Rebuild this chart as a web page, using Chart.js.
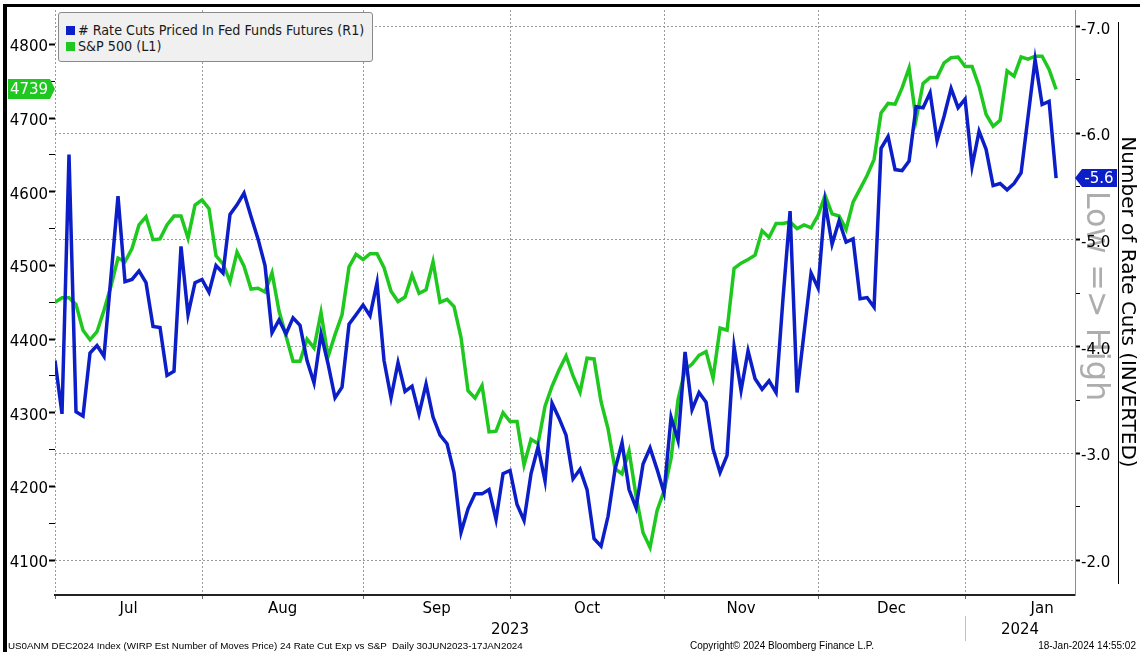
<!DOCTYPE html>
<html>
<head>
<meta charset="utf-8">
<script src="https://cdn.jsdelivr.net/npm/chart.js@4.4.0/dist/chart.umd.min.js"></script>
<style>
  html, body { margin: 0; padding: 0; background: #fff; }
  #wrap { position: relative; width: 1140px; height: 652px; overflow: hidden; }
  #chart { position: absolute; left: 0; top: 0; }
  #frameL { position: absolute; left: 3px; top: 4px; width: 4px; height: 648px; background: #000; }
  #frameT { position: absolute; left: 3px; top: 4px; width: 1137px; height: 3px; background: #000; }
  #legend {
    position: absolute; left: 58px; top: 12px; width: 313px; height: 48px;
    background: #f0f0f0; border: 1px solid #8a8a8a; border-radius: 3px;
    font-family: "DejaVu Sans Condensed", "DejaVu Sans", sans-serif; font-stretch: condensed;
    font-size: 14.2px; color: #1a1a1a;
  }
  #legend .row { position: absolute; left: 7px; height: 16px; line-height: 16px; white-space: nowrap; }
  #legend .sw { display: inline-block; width: 9px; height: 9px; margin-right: 3px; }
  .foot {
    position: absolute; top: 639px; height: 14px; line-height: 14px;
    font-family: "Liberation Sans", sans-serif; font-size: 10px; color: #000; white-space: pre;
  }
</style>
</head>
<body>
<div id="wrap">
  <canvas id="chart" width="1140" height="652"></canvas>
  <div id="frameL"></div>
  <div id="frameT"></div>
  <div id="legend">
    <div class="row" style="top:9px"><span class="sw" style="background:#0c1ec8"></span># Rate Cuts Priced In Fed Funds Futures (R1)</div>
    <div class="row" style="top:25px"><span class="sw" style="background:#1ec81e"></span>S&amp;P 500 (L1)</div>
  </div>
  <div class="foot" style="left:8px;font-size:9.8px">US0ANM DEC2024 Index (WIRP Est Number of Moves Price) 24 Rate Cut Exp vs S&amp;P  Daily 30JUN2023-17JAN2024</div>
  <div class="foot" style="left:690px">Copyright© 2024 Bloomberg Finance L.P.</div>
  <div class="foot" style="right:4px">18-Jan-2024 14:55:02</div>
</div>
<script>
// daily (weekday) series, 30 Jun 2023 .. 17 Jan 2024
const rateCuts = [
  -3.87, -3.37, -5.80, -3.39, -3.35, -3.94, -4.01, -3.91, -4.66, -5.41,
  -4.61, -4.63, -4.71, -4.60, -4.19, -4.18, -3.73, -3.77, -4.94, -4.30,
  -4.60, -4.63, -4.51, -4.76, -4.69, -5.24, -5.33, -5.44, -5.22, -5.01,
  -4.76, -4.13, -4.25, -4.12, -4.27, -4.20, -3.87, -3.66, -4.12, -3.84,
  -3.52, -3.62, -4.21, -4.30, -4.39, -4.29, -4.60, -3.87, -3.52, -3.85,
  -3.58, -3.63, -3.37, -3.65, -3.34, -3.17, -3.09, -2.82, -2.26, -2.48,
  -2.62, -2.62, -2.66, -2.38, -2.81, -2.84, -2.52, -2.37, -2.81, -3.06,
  -2.74, -3.47, -3.33, -3.17, -2.76, -2.85, -2.66, -2.20, -2.13, -2.41,
  -2.85, -3.10, -2.66, -2.49, -2.90, -3.05, -2.85, -2.63, -3.34, -3.12,
  -3.95, -3.41, -3.57, -3.48, -3.04, -2.82, -2.98, -4.00, -3.59, -3.96,
  -3.70, -3.60, -3.68, -3.57, -4.46, -5.27, -3.57, -4.13, -4.69, -4.55,
  -5.35, -4.96, -5.18, -4.98, -5.01, -4.45, -4.46, -4.37, -5.86, -5.97,
  -5.66, -5.65, -5.74, -6.25, -6.24, -6.38, -5.93, -6.16, -6.42, -6.24,
  -6.32, -5.69, -6.02, -5.85, -5.51, -5.53, -5.47, -5.53, -5.63, -6.16,
  -6.69, -6.27, -6.30, -5.58
];

const spx = [
  4450, 4456, 4456, 4447, 4412, 4399, 4410, 4439, 4472, 4510,
  4505, 4523, 4555, 4566, 4535, 4536, 4555, 4567, 4567, 4537,
  4582, 4589, 4577, 4513, 4502, 4478, 4518, 4499, 4468, 4469,
  4464, 4490, 4438, 4404, 4370, 4370, 4400, 4388, 4436, 4376,
  4406, 4433, 4498, 4515, 4508, 4516, 4516, 4497, 4465, 4451,
  4457, 4487, 4462, 4467, 4505, 4450, 4454, 4444, 4402, 4330,
  4320, 4337, 4274, 4275, 4300, 4288, 4288, 4229, 4264, 4258,
  4309, 4336, 4358, 4377, 4350, 4328, 4374, 4373, 4315, 4278,
  4224, 4217, 4248, 4187, 4137, 4117, 4167, 4194, 4238, 4318,
  4358, 4366, 4378, 4383, 4347, 4415, 4412, 4496, 4503, 4508,
  4514, 4547, 4538, 4557, 4557, 4559, 4550, 4555, 4551, 4568,
  4595, 4570, 4567, 4549, 4586, 4604, 4622, 4644, 4707, 4720,
  4719, 4741, 4768, 4698, 4747, 4755, 4755, 4775, 4782, 4783,
  4770, 4770, 4743, 4705, 4689, 4697, 4764, 4757, 4783, 4780,
  4784, 4784, 4766, 4739
];

// month boundaries (index of last weekday of previous month), last one = end of Jan
const monthEnds = [0, 21, 44, 65, 87, 109, 130, 152];
const monthLabels = ['Jul', 'Aug', 'Sep', 'Oct', 'Nov', 'Dec', 'Jan'];
const yearLabels = ['2023', '2024'];
const yearStarts = [0, 130];

const leftTicks = [4100, 4150, 4200, 4250, 4300, 4350, 4400, 4450, 4500, 4550, 4600, 4650, 4700, 4750, 4800];
const rightTicks = [-7, -6.5, -6, -5.5, -5, -4.5, -4, -3.5, -3, -2.5, -2];

const BLUE = '#0c1ec8';
const GREEN = '#1ec81e';
const FONT = '"DejaVu Sans", sans-serif';
// tick fonts: the empty first line nudges each label a few px down onto its tick
const tickFont = { family: FONT, size: 15, lineHeight: 0.4 };

const decor = {
  id: 'decor',
  beforeDraw(chart) {
    const ctx = chart.ctx;
    ctx.save();
    ctx.fillStyle = '#adadad';
    ctx.font = '32px ' + FONT;
    ctx.textAlign = 'center';
    ctx.textBaseline = 'middle';
    ctx.translate(1095, 296);
    ctx.rotate(Math.PI / 2);
    ctx.fillText('Low => High', 0, 0);
    ctx.restore();
  },
  afterDraw(chart) {
    const { ctx, scales } = chart;
    const x = scales.x, y = scales.y, y1 = scales.y1;
    ctx.save();

    // month labels
    ctx.fillStyle = '#000';
    ctx.font = '15px ' + FONT;
    ctx.textAlign = 'center';
    ctx.textBaseline = 'middle';
    monthLabels.forEach((m, k) => {
      const mid = (monthEnds[k] + monthEnds[k + 1]) / 2;
      ctx.fillText(m, x.getPixelForValue(mid), 609);
    });

    // year labels
    yearLabels.forEach((yl, k) => {
      const a = x.getPixelForValue(yearStarts[k]);
      const b = k + 1 < yearStarts.length ? x.getPixelForValue(yearStarts[k + 1]) : x.right;
      ctx.fillText(yl, (a + b) / 2, 630);
    });
    const sep = Math.round(x.getPixelForValue(yearStarts[1])) + 0.5;
    ctx.strokeStyle = '#c0c0c0';
    ctx.lineWidth = 1;
    ctx.beginPath();
    ctx.moveTo(sep, 616);
    ctx.lineTo(sep, 641);
    ctx.stroke();

    // right axis title + bracket line
    ctx.strokeStyle = '#000';
    ctx.beginPath();
    ctx.moveTo(1118.5, 22);
    ctx.lineTo(1118.5, 584);
    ctx.stroke();
    ctx.save();
    ctx.translate(1127, 302);
    ctx.rotate(Math.PI / 2);
    ctx.font = '20px ' + FONT;
    ctx.fillStyle = '#000';
    ctx.fillText('Number of Rate Cuts (INVERTED)', 0, 0);
    ctx.restore();

    // last value tags
    const lastSpx = spx[spx.length - 1];
    const gy = Math.round(y.getPixelForValue(lastSpx));
    ctx.fillStyle = GREEN;
    ctx.beginPath();
    ctx.moveTo(8, gy - 10);
    ctx.lineTo(50, gy - 10);
    ctx.lineTo(55, gy);
    ctx.lineTo(50, gy + 10);
    ctx.lineTo(8, gy + 10);
    ctx.closePath();
    ctx.fill();
    ctx.fillStyle = '#fff';
    ctx.font = '15px ' + FONT;
    ctx.fillText(String(Math.round(lastSpx)), 29, gy + 1);

    const lastCut = rateCuts[rateCuts.length - 1];
    const by = Math.round(y1.getPixelForValue(lastCut));
    ctx.fillStyle = BLUE;
    ctx.beginPath();
    ctx.moveTo(1075, by);
    ctx.lineTo(1082, by - 9);
    ctx.lineTo(1117, by - 9);
    ctx.lineTo(1117, by + 9);
    ctx.lineTo(1082, by + 9);
    ctx.closePath();
    ctx.fill();
    ctx.fillStyle = '#fff';
    ctx.fillText(lastCut.toFixed(1), 1099, by + 1);

    ctx.restore();
  }
};

new Chart(document.getElementById('chart').getContext('2d'), {
  type: 'line',
  data: {
    datasets: [
      {
        label: '# Rate Cuts Priced In Fed Funds Futures (R1)',
        data: rateCuts.map((v, i) => ({ x: i, y: v })),
        yAxisID: 'y1',
        borderColor: BLUE,
        borderWidth: 3.5,
        pointRadius: 0,
        tension: 0
      },
      {
        label: 'S&P 500 (L1)',
        data: spx.map((v, i) => ({ x: i, y: v })),
        yAxisID: 'y',
        borderColor: GREEN,
        borderWidth: 3.5,
        pointRadius: 0,
        tension: 0
      }
    ]
  },
  options: {
    responsive: false,
    animation: false,
    devicePixelRatio: 1,
    layout: { padding: { top: 10, left: 0, right: 0, bottom: 0 } },
    plugins: { legend: { display: false }, tooltip: { enabled: false } },
    scales: {
      x: {
        type: 'linear',
        min: 0,
        max: 145.7,
        afterBuildTicks: s => { s.ticks = monthEnds.slice(0, 7).map(v => ({ value: v })); },
        afterFit: s => { s.height = 57; },
        ticks: { display: false },
        grid: { color: '#9a9a9a', lineWidth: 1, tickLength: 4, tickColor: '#666' },
        border: { color: '#222', width: 2, dash: [2, 2] }
      },
      y: {
        position: 'left',
        min: 4052.5,
        max: 4846.8,
        afterBuildTicks: s => { s.ticks = leftTicks.map(v => ({ value: v })); },
        afterFit: s => { s.width = 55; },
        ticks: {
          autoSkip: false,
          padding: 1,
          color: '#000',
          font: tickFont,
          callback: v => (v % 100 === 0 ? ['', String(v)] : '')
        },
        grid: {
          drawOnChartArea: false,
          tickLength: 6,
          tickColor: '#000',
          tickWidth: c => (c.tick && c.tick.value % 100 === 0 ? 2 : 1)
        },
        border: { display: false }
      },
      y1: {
        position: 'right',
        reverse: true,
        min: -7.156,
        max: -1.672,
        afterBuildTicks: s => { s.ticks = rightTicks.map(v => ({ value: v })); },
        afterFit: s => { s.width = 65; },
        ticks: {
          autoSkip: false,
          padding: 1,
          color: '#000',
          font: tickFont,
          callback: v => (Number.isInteger(v) ? ['', v.toFixed(1)] : '')
        },
        grid: {
          color: c => (c.tick && Number.isInteger(c.tick.value) ? '#9a9a9a' : 'rgba(0,0,0,0)'),
          tickLength: 5,
          tickColor: '#000',
          tickWidth: c => (c.tick && Number.isInteger(c.tick.value) ? 2 : 1)
        },
        border: { color: '#8c8c8c', width: 1, dash: [2, 2] }
      }
    }
  },
  plugins: [decor]
});
</script>
</body>
</html>
